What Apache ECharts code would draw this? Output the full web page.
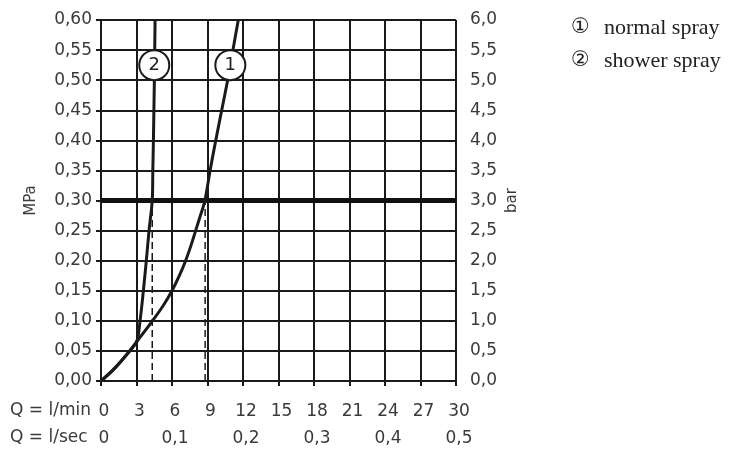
<!DOCTYPE html>
<html><head><meta charset="utf-8">
<script src="https://cdn.jsdelivr.net/npm/echarts@6/dist/echarts.min.js"></script>
<style>html,body{margin:0;padding:0;background:#fff}#c{width:739px;height:461px}</style>
</head><body><div id="c"></div>
<script>
// Flow (l/min) vs pressure (MPa)
const normalSpray = [[0,0],[1,0.018],[2,0.04],[3,0.065],[4.35,0.10],[5.25,0.125],[6,0.15],[6.62,0.175],[7.15,0.20],[7.6,0.225],[8.0,0.25],[8.4,0.275],[8.78,0.30],[9.22,0.35],[9.7,0.40],[10.2,0.45],[10.7,0.50],[11.15,0.55],[11.6,0.60]];
const showerSpray = [[0,0],[1,0.018],[2,0.04],[3,0.065],[3.3,0.10],[3.58,0.15],[3.83,0.20],[4.06,0.25],[4.33,0.30],[4.38,0.35],[4.43,0.40],[4.47,0.45],[4.51,0.50],[4.54,0.55],[4.57,0.60]];
const dropNormal = [[8.8,0],[8.8,0.30]];
const dropShower = [[4.33,0],[4.33,0.30]];
const refPressure = [[0,0.30],[30,0.30]];
const tagPositions = [[10.93,0.525,'1'],[4.5,0.525,'2']];
const legendMarks = ['\u2460','\u2461'];
const legendTexts = ['normal spray','shower spray'];
const rowTitles = ['Q = l/min','Q = l/sec'];

const FONT = 'DejaVu Sans';
const INK = '#1a1a1a';
const TXT = '#3a3a3a';
const chart = echarts.init(document.getElementById('c'));
const comma = (v,d)=>v.toFixed(d).replace('.',',');
chart.setOption({
  animation:false,
  grid:{left:101,right:283,top:20,bottom:80},
  xAxis:[
    {type:'value',min:0,max:30,interval:3,position:'bottom',
     axisLine:{show:true,lineStyle:{color:INK,width:2}},
     axisTick:{show:true,length:5,lineStyle:{color:INK,width:2}},
     axisLabel:{margin:22,fontFamily:FONT,fontSize:17,color:TXT,padding:[0,0,0,6]},
     splitLine:{show:true,lineStyle:{color:INK,width:2}}},
    {type:'value',min:0,max:30,interval:6,position:'bottom',offset:27,
     axisLine:{show:false},axisTick:{show:false},splitLine:{show:false},
     axisLabel:{margin:22,fontFamily:FONT,fontSize:17,color:TXT,padding:[0,0,0,6],
       formatter:v=>v===0?'0':comma(v/60,1)}}
  ],
  yAxis:[
    {type:'value',min:0,max:0.6,interval:0.05,position:'left',
     name:'MPa',nameLocation:'middle',nameGap:62,nameRotate:90,
     nameTextStyle:{fontFamily:FONT,fontSize:15,color:TXT},
     axisLine:{show:true,lineStyle:{color:INK,width:2}},
     axisTick:{show:true,length:5,lineStyle:{color:INK,width:2}},
     axisLabel:{margin:9,fontFamily:FONT,fontSize:17,color:TXT,formatter:v=>comma(v,2)},
     splitLine:{show:true,lineStyle:{color:INK,width:2}}},
    {type:'value',min:0,max:6,interval:0.5,position:'right',
     name:'bar',nameLocation:'middle',nameGap:49,nameRotate:90,
     nameTextStyle:{fontFamily:FONT,fontSize:15,color:TXT},
     axisLine:{show:true,lineStyle:{color:INK,width:2}},
     axisTick:{show:true,length:5,lineStyle:{color:INK,width:2}},
     axisLabel:{margin:14,fontFamily:FONT,fontSize:17,color:TXT,formatter:v=>comma(v,1)},
     splitLine:{show:false}}
  ],
  series:[
    {type:'line',data:refPressure,symbol:'none',lineStyle:{color:'#111',width:5},z:3},
    {type:'line',data:dropNormal,symbol:'none',lineStyle:{color:INK,width:1.5,type:[7,4]},z:3},
    {type:'line',data:dropShower,symbol:'none',lineStyle:{color:INK,width:1.5,type:[7,4]},z:3},
    {type:'line',data:normalSpray,symbol:'none',smooth:0.4,lineStyle:{color:INK,width:3},z:4},
    {type:'line',data:showerSpray,symbol:'none',smooth:0.3,lineStyle:{color:INK,width:3},z:4},
    {type:'scatter',data:tagPositions,symbol:'circle',symbolSize:30,z:6,
     itemStyle:{color:'#fff',borderColor:INK,borderWidth:2,opacity:1},
     label:{show:true,position:'inside',formatter:p=>p.data[2],fontFamily:FONT,fontSize:18,color:'#222'}}
  ],
  graphic:[
    {type:'text',left:10,top:402,style:{text:rowTitles[0],font:'17px "DejaVu Sans"',fill:TXT}},
    {type:'text',left:10,top:429,style:{text:rowTitles[1],font:'17px "DejaVu Sans"',fill:TXT}},
    {type:'text',left:571,top:17,style:{text:legendMarks[0],font:'21px "DejaVu Sans"',fill:'#222'}},
    {type:'text',left:604,top:17,style:{text:legendTexts[0],font:'22px "Liberation Serif"',fill:'#222'}},
    {type:'text',left:571,top:50,style:{text:legendMarks[1],font:'21px "DejaVu Sans"',fill:'#222'}},
    {type:'text',left:604,top:50,style:{text:legendTexts[1],font:'22px "Liberation Serif"',fill:'#222'}}
  ]
});
</script></body></html>
